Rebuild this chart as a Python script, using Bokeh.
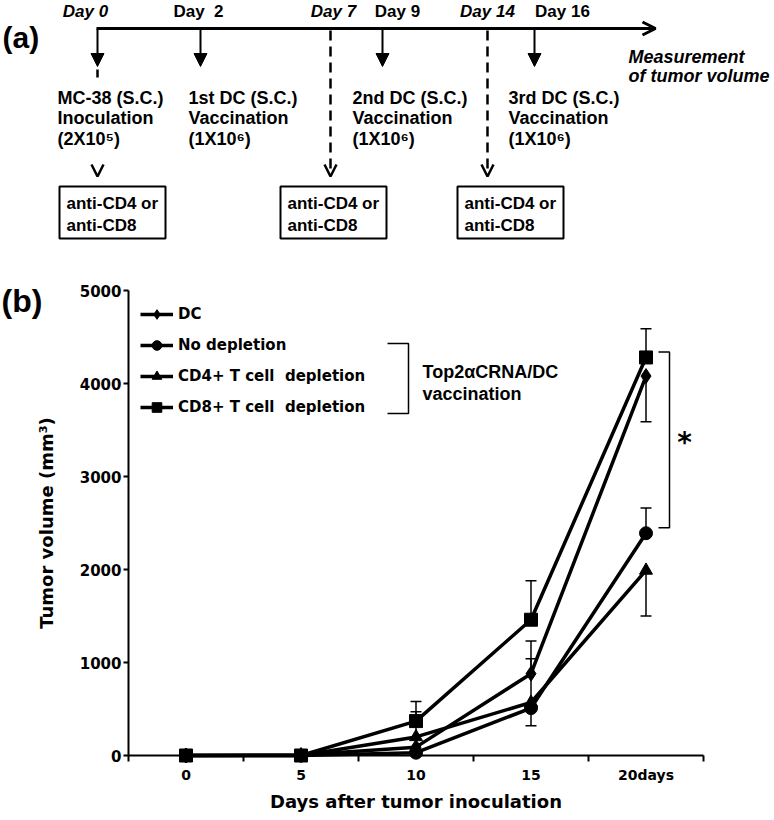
from bokeh.plotting import figure
from bokeh.layouts import column
from bokeh.models import (ColumnDataSource, Range1d, FixedTicker, Legend, LegendItem,
                          Whisker, TeeHead, Arrow, NormalHead, OpenHead)
from bokeh.core.properties import value
from bokeh.embed import file_html
from bokeh.resources import INLINE

# ---------------- data: panel (b) ----------------
days = [0, 5, 10, 15, 20]
x_tick_labels = ["0", "5", "10", "15", "20days"]
y_ticks = [0, 1000, 2000, 3000, 4000, 5000]
series_names = ["DC", "No depletion", "CD4+ T cell\u00a0 depletion", "CD8+ T cell\u00a0 depletion"]
dc = [0, 5, 90, 880, 4080]
no_depletion = [0, 0, 30, 510, 2390]
cd4_depletion = [0, 0, 200, 570, 1990]
cd8_depletion = [0, 0, 370, 1460, 4280]
dc_err_up = [0, 0, 0, 350, 0]
dc_err_down = [0, 0, 0, 0, 490]
nd_err_up = [0, 0, 0, 0, 270]
nd_err_down = [0, 0, 0, 190, 0]
cd4_err_up = [0, 0, 270, 470, 0]
cd4_err_down = [0, 0, 0, 0, 490]
cd8_err_up = [0, 0, 210, 420, 310]
cd8_err_down = [0, 0, 0, 0, 0]
sig_span = [2450, 4340]          # significance bracket at day 20
group_label = ["Top2\u03b1CRNA/DC", "vaccination"]

# ---------------- data: panel (a) ----------------
day_labels = ["Day 0", "Day\u00a0 2", "Day 7", "Day 9", "Day 14", "Day 16"]
day_italic = [True, False, True, False, True, False]
day_event = ["solid", "solid", "dashed", "solid", "dashed", "solid"]
event_texts = [
    ["MC-38 (S.C.)", "Inoculation", "(2X10\u2075)"],
    ["1st DC (S.C.)", "Vaccination", "(1X10\u2076)"],
    ["2nd DC (S.C.)", "Vaccination", "(1X10\u2076)"],
    ["3rd DC (S.C.)", "Vaccination", "(1X10\u2076)"],
]
box_texts = ["anti-CD4 or", "anti-CD8"]
measure_texts = ["Measurement", "of tumor volume"]

# ---------------- layout (pixel positions for panel a) ----------------
W = 774
line_y = 28
day_x = [97, 200, 330, 382, 487, 534]
day_label_x = [85, 198, 333, 397, 487, 562]
event_x = [57, 188, 352, 508]
event_mid = [97, 117, 138]
box_left = [59, 280, 457]
box_w = 106
box_top, box_bot = 186, 238
box_text_dx = 7
box_mid = [203, 225]

ARIAL = value("Liberation Sans")
VERD = "DejaVu Sans"

# ================= panel (a) =================
pa = figure(width=W, height=273, x_range=Range1d(0, W), y_range=Range1d(273, 0),
            x_axis_type=None, y_axis_type=None, output_backend="svg",
            toolbar_location=None, min_border=0, title=None)
pa.outline_line_color = None

pa.add_layout(Arrow(x_start=96, y_start=line_y, x_end=655, y_end=line_y, line_width=3,
                    end=OpenHead(size=13, line_width=3)))
for x, kind in zip(day_x, day_event):
    if kind == "solid":
        pa.add_layout(Arrow(x_start=x, y_start=line_y, x_end=x, y_end=66, line_width=2,
                            end=NormalHead(size=13, fill_color="black", line_color="black", line_width=1)))
    else:
        pa.add_layout(Arrow(x_start=x, y_start=line_y + 2, x_end=x, y_end=176, line_width=2.5,
                            line_dash="10 6", end=OpenHead(size=12, line_width=2.5)))
# depletion at day 0: short dash then open head
pa.line([day_x[0], day_x[0]], [69, 77], line_width=2.5, color="black")
pa.add_layout(Arrow(x_start=day_x[0], y_start=168, x_end=day_x[0], y_end=176, line_alpha=0,
                    end=OpenHead(size=12, line_width=2.5)))

# day labels
src_it = ColumnDataSource(dict(x=[x for x, i in zip(day_label_x, day_italic) if i],
                               t=[t for t, i in zip(day_labels, day_italic) if i]))
src_nt = ColumnDataSource(dict(x=[x for x, i in zip(day_label_x, day_italic) if not i],
                               t=[t for t, i in zip(day_labels, day_italic) if not i]))
pa.text(x="x", y=11, text="t", source=src_it, text_font=ARIAL, text_font_style="bold italic",
        text_font_size="17px", text_align="center", text_baseline="middle")
pa.text(x="x", y=11, text="t", source=src_nt, text_font=ARIAL, text_font_style="bold",
        text_font_size="17px", text_align="center", text_baseline="middle")

# event texts
ex, ey, et = [], [], []
for x, lines in zip(event_x, event_texts):
    for m, t in zip(event_mid, lines):
        ex.append(x); ey.append(m); et.append(t)
pa.text(x=ex, y=ey, text=et, text_font=ARIAL, text_font_style="bold", text_font_size="18px",
        text_align="left", text_baseline="middle")

# boxes
pa.quad(left=box_left, right=[l + box_w for l in box_left], top=[box_top] * 3, bottom=[box_bot] * 3,
        fill_color=None, line_color="black", line_width=2)
bx, by, bt = [], [], []
for l in box_left:
    for m, t in zip(box_mid, box_texts):
        bx.append(l + box_text_dx); by.append(m); bt.append(t)
pa.text(x=bx, y=by, text=bt, text_font=ARIAL, text_font_style="bold", text_font_size="17px",
        text_align="left", text_baseline="middle")

# measurement
pa.text(x=[628, 628], y=[56, 75], text=measure_texts, text_font=ARIAL, text_font_style="bold italic",
        text_font_size="18px", text_align="left", text_baseline="middle")
pa.text(x=[2], y=[37], text=["(a)"], text_font=ARIAL, text_font_style="bold",
        text_font_size="30px", text_align="left", text_baseline="middle")

# ================= panel (b) =================
X0, X1 = -2.5, 22.5
FL, FW, FT, FH = 128, 575, 290, 465   # frame geometry on the page


def dx(px):
    return X0 + (px - FL) / FW * (X1 - X0)


def dy(py):
    return (FT + FH - py) / FH * 5000


pb = figure(width=W, height=547, x_range=Range1d(X0, X1), y_range=Range1d(0, 5000),
            output_backend="svg", toolbar_location=None, title=None,
            min_border_left=128, min_border_right=71, min_border_top=17, min_border_bottom=65)
pb.outline_line_color = None
pb.xgrid.visible = False
pb.ygrid.visible = False

for fig in (pa, pb):
    try:
        fig.frame_align = False
    except Exception:
        pass

xa = pb.xaxis[0]
xa.ticker = FixedTicker(ticks=days, minor_ticks=[-2.5, 2.5, 7.5, 12.5, 17.5, 22.5])
xa.major_label_overrides = {d: l for d, l in zip(days, x_tick_labels)}
xa.major_tick_out = 0
xa.major_tick_in = 0
xa.minor_tick_out = 6
xa.minor_tick_in = 0
xa.minor_tick_line_width = 2
xa.major_label_standoff = 5
xa.axis_label = "Days after tumor inoculation"
xa.axis_label_standoff = 5

ya = pb.yaxis[0]
ya.ticker = FixedTicker(ticks=y_ticks, minor_ticks=[])
ya.major_tick_out = 5
ya.major_tick_in = 0
ya.minor_tick_out = 0
ya.minor_tick_in = 0
ya.major_tick_line_width = 2
ya.major_label_standoff = 2
ya.axis_label = "Tumor volume (mm\u00b3)"
ya.axis_label_standoff = 20

for ax in (xa, ya):
    ax.axis_line_width = 2
    ax.axis_line_color = "black"
    ax.major_tick_line_color = "black"
    ax.minor_tick_line_color = "black"
    ax.major_label_text_font = VERD
    ax.major_label_text_font_style = "bold"
    ax.major_label_text_color = "black"
    ax.axis_label_text_font = VERD
    ax.axis_label_text_font_style = "bold"
    ax.axis_label_text_font_size = "18px"
    ax.axis_label_text_color = "black"
xa.major_label_text_font_size = "14px"
ya.major_label_text_font_size = "15px"

series = [
    (dc, dc_err_up, dc_err_down, "diamond", 15),
    (no_depletion, nd_err_up, nd_err_down, "circle", 13),
    (cd4_depletion, cd4_err_up, cd4_err_down, "triangle", 13),
    (cd8_depletion, cd8_err_up, cd8_err_down, "square", 13),
]

# error bars
for vals, up, down, _, _ in series:
    ux = [d for d, u in zip(days, up) if u > 0]
    uv = [v for v, u in zip(vals, up) if u > 0]
    uu = [v + u for v, u in zip(vals, up) if u > 0]
    if ux:
        s = ColumnDataSource(dict(x=ux, lo=uv, hi=uu))
        pb.add_layout(Whisker(base="x", lower="lo", upper="hi", source=s, line_width=1.5,
                              line_color="black", lower_head=None,
                              upper_head=TeeHead(size=11, line_width=1.5, line_color="black")))
    lx = [d for d, u in zip(days, down) if u > 0]
    lv = [v for v, u in zip(vals, down) if u > 0]
    ll = [v - u for v, u in zip(vals, down) if u > 0]
    if lx:
        s = ColumnDataSource(dict(x=lx, lo=ll, hi=lv))
        pb.add_layout(Whisker(base="x", lower="lo", upper="hi", source=s, line_width=1.5,
                              line_color="black", upper_head=None,
                              lower_head=TeeHead(size=11, line_width=1.5, line_color="black")))

items = []
for name, (vals, up, down, marker, size) in zip(series_names, series):
    r_line = pb.line(days, vals, line_width=3.5, color="black", level="overlay")
    r_pts = pb.scatter(days, vals, marker=marker, size=size, fill_color="black",
                       line_color="black", level="overlay")
    items.append(LegendItem(label=name, renderers=[r_line, r_pts]))

legend = Legend(items=items, location="top_left", margin=12, padding=0, spacing=7,
                glyph_height=24, glyph_width=33, label_height=24, label_standoff=5,
                label_text_font=VERD, label_text_font_style="bold", label_text_font_size="15px",
                label_text_color="black", border_line_alpha=0, background_fill_alpha=0)
pb.add_layout(legend)

# group bracket and its label
pb.line([dx(387), dx(408), dx(408), dx(387)], [dy(343), dy(343), dy(413), dy(413)],
        line_width=1.5, color="black")
pb.text(x=[dx(422)] * 2, y=[dy(371), dy(393)], text=group_label, text_font=ARIAL,
        text_font_style="bold", text_font_size="18px", text_align="left", text_baseline="middle",
        text_color="black")

# significance bracket at day 20
sx_in, sx_out = dx(658), dx(669)
pb.line([sx_in, sx_out, sx_out, sx_in], [sig_span[1], sig_span[1], sig_span[0], sig_span[0]],
        line_width=1.5, color="black")
pb.text(x=[dx(684)], y=[dy(442)], text=["*"], text_font=value(VERD), text_font_style="bold",
        text_font_size="28px", text_align="center", text_baseline="middle", text_color="black",
        level="overlay")

# panel label (outside the frame; overlay level is not clipped)
pb.text(x=[dx(1)], y=[dy(300)], text=["(b)"], text_font=ARIAL, text_font_style="bold",
        text_font_size="32px", text_align="left", text_baseline="middle", text_color="black",
        level="overlay")

layout = column(pa, pb)
open("out.html", "w").write(file_html(layout, INLINE))
